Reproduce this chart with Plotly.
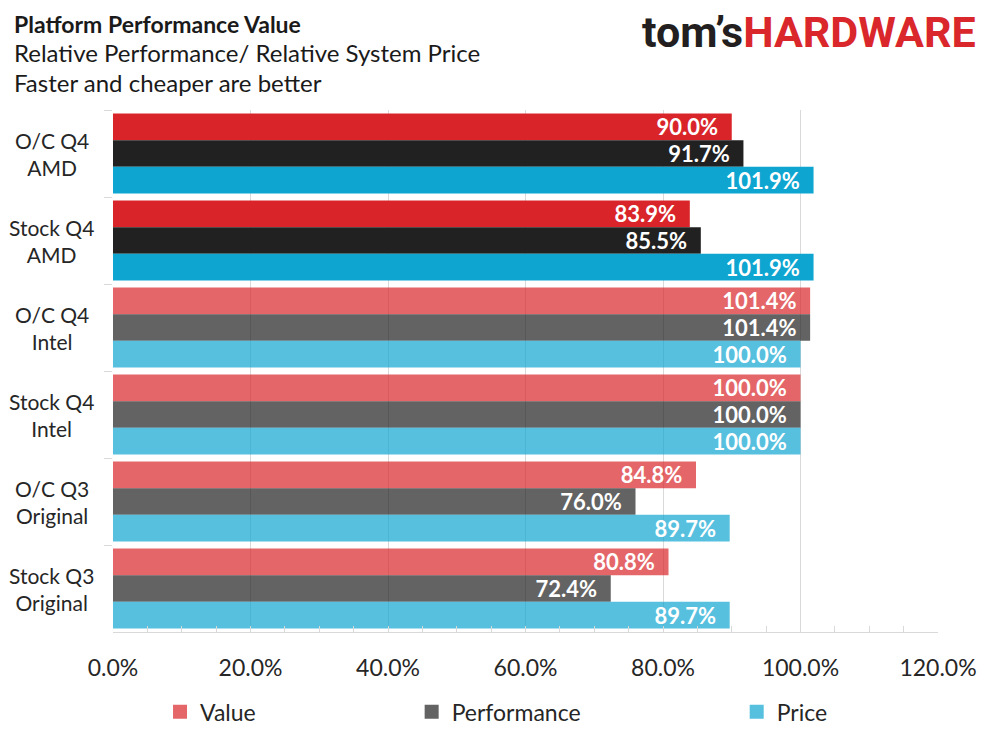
import plotly.graph_objects as go

categories = ["O/C Q4<br>AMD", "Stock Q4<br>AMD", "O/C Q4<br>Intel",
              "Stock Q4<br>Intel", "O/C Q3<br>Original", "Stock Q3<br>Original"]
value = [90.0, 83.9, 101.4, 100.0, 84.8, 80.8]
performance = [91.7, 85.5, 101.4, 100.0, 76.0, 72.4]
price = [101.9, 101.9, 100.0, 100.0, 89.7, 89.7]
is_amd = [True, True, False, False, False, False]

# AMD rows solid, the rest at ~70% so the grid shows through (like the original)
series = [
    ("Value", value, "rgb(217,37,42)", "rgba(217,37,42,0.7)"),
    ("Performance", performance, "rgb(33,33,33)", "rgba(33,33,33,0.7)"),
    ("Price", price, "rgb(15,165,209)", "rgba(15,165,209,0.7)"),
]

FONT = "Lato"
fig = go.Figure()

for name, vals, solid, light in series:
    fig.add_trace(go.Bar(
        y=categories, x=vals, orientation="h", name=name, showlegend=False,
        marker=dict(color=[solid if a else light for a in is_amd], line=dict(width=0)),
        # nbsp's give the right-hand padding Excel leaves inside the bar
        texttemplate="%{x:.1f}%\u00a0\u00a0", textposition="inside", insidetextanchor="end",
        constraintext="none",
        insidetextfont=dict(family=FONT, size=22, color="white", weight="bold"),
    ))

# legend swatches (light colours), one legend each so they sit where Excel put them
legend_x = [0.057, 0.362, 0.756]
for i, (name, vals, solid, light) in enumerate(series):
    lg = "legend" if i == 0 else "legend%d" % (i + 1)
    fig.add_trace(go.Scatter(
        x=[None], y=[None], mode="markers", name=name, legend=lg,
        marker=dict(symbol="square", size=14, color=light),
    ))

legend_style = dict(orientation="h", yanchor="middle", xanchor="left", y=-0.153,
                    font=dict(family=FONT, size=23, color="#262626"),
                    itemwidth=30, bgcolor="rgba(0,0,0,0)")
fig.update_layout(
    legend=dict(x=legend_x[0], **legend_style),
    legend2=dict(x=legend_x[1], **legend_style),
    legend3=dict(x=legend_x[2], **legend_style),
)

# category labels, centred two-line like the original
for c in categories:
    fig.add_annotation(x=-0.074, y=c, xref="paper", yref="y", text=c,
                       showarrow=False, xanchor="center", align="center",
                       font=dict(family=FONT, size=21, color="#262626"))

# first title line pinned to the top edge so its box stays inside the page
fig.add_annotation(x=-0.122, y=1.195, xref="paper", yref="paper",
                   text="<b>Platform Performance Value</b>",
                   showarrow=False, xanchor="left", yanchor="top",
                   font=dict(family=FONT, size=23, color="#1a1a1a"))
subtitles = [
    ("Relative Performance/ Relative System Price", 1.111),
    ("Faster and cheaper are better", 1.052),
]
for t, yy in subtitles:
    fig.add_annotation(x=-0.122, y=yy, xref="paper", yref="paper", text=t,
                       showarrow=False, xanchor="left", yanchor="middle",
                       font=dict(family=FONT, size=24, color="#1a1a1a"))

fig.add_annotation(
    x=1.049, y=1.149, xref="paper", yref="paper", showarrow=False,
    xanchor="right", yanchor="middle",
    text="<span style='color:#231F20'>tom’s</span><span style='color:#D9272C'>HARDWARE</span>",
    font=dict(family="Roboto", size=43, weight="bold"),
)

# page body has an 8px margin, so the figure sits 8px in from the window corner
fig.update_layout(
    width=989, height=741,
    margin=dict(l=105, r=59, t=102, b=117, autoexpand=False),
    paper_bgcolor="white", plot_bgcolor="white",
    barmode="group", bargap=0.08, bargroupgap=0,
    font=dict(family=FONT, size=23, color="#262626"),
    xaxis=dict(
        range=[0, 120], dtick=20, tickformat=".1f", ticksuffix="%",
        showgrid=True, gridcolor="#D9D9D9", gridwidth=1, zeroline=False,
        showline=True, linecolor="#D9D9D9", ticks="inside", ticklen=6,
        tickcolor="#D9D9D9", ticklabelstandoff=15,
        minor=dict(dtick=5, ticks="inside", ticklen=6, tickcolor="#D9D9D9", showgrid=False),
        tickfont=dict(family=FONT, size=23, color="#262626"),
        fixedrange=True,
    ),
    yaxis=dict(
        categoryorder="array", categoryarray=categories, autorange="reversed",
        showticklabels=False, showgrid=False, zeroline=False,
        tickson="boundaries", ticks="outside", ticklen=8, tickcolor="#D9D9D9",
        fixedrange=True,
    ),
)

fig.write_html("out.html")
